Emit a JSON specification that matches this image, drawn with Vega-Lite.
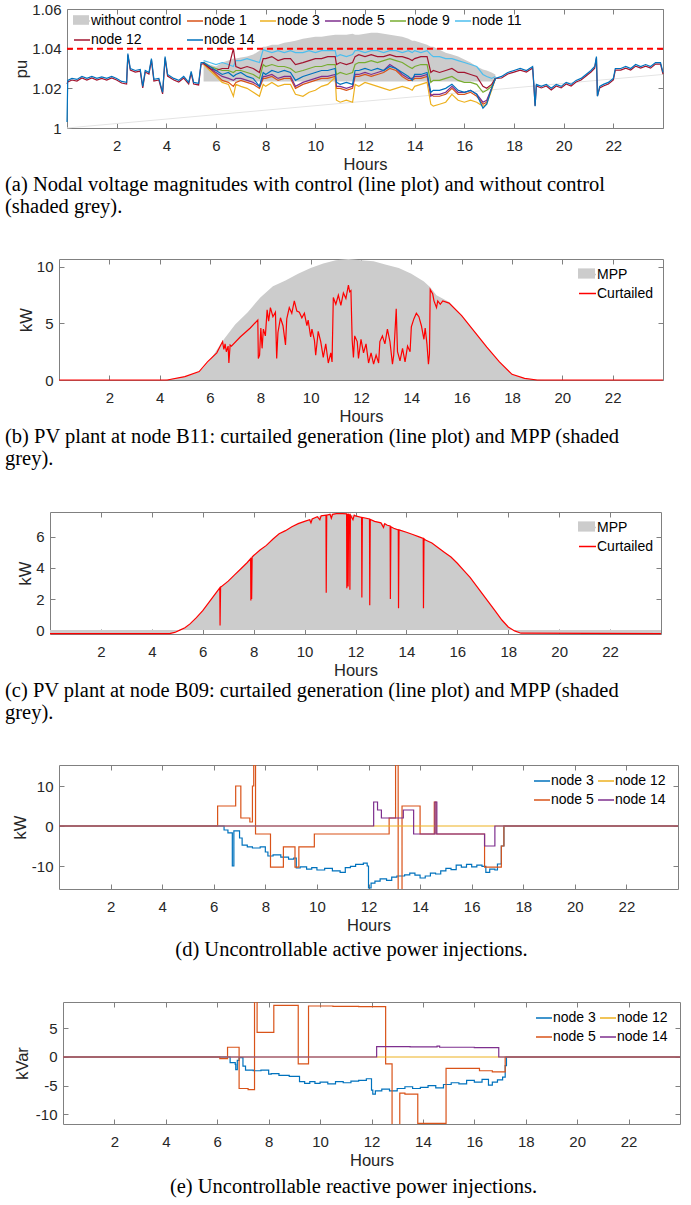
{
"$schema": "https://vega.github.io/schema/vega-lite/v6.json",
"background": "white",
"padding": {"left": 3, "top": 1, "right": 5, "bottom": 3},
"config": {
  "font": "Liberation Sans",
  "locale": {"number": {"decimal": ".", "thousands": ",", "grouping": [3], "currency": ["$", ""], "minus": "-"}},
  "view": {"stroke": "#808080", "strokeWidth": 1},
  "axis": {"grid": false, "domain": false, "tickSize": -5, "tickColor": "#808080", "tickWidth": 1, "labelFont": "Liberation Sans", "labelFontSize": 15, "labelColor": "#262626", "labelPadding": 11, "titleFont": "Liberation Sans", "titleFontSize": 16.5, "titleFontWeight": "normal", "titleColor": "#262626", "labelFlush": false, "labelOverlap": false},
  "axisY": {"titlePadding": 2},
  "axisX": {"titlePadding": 3, "labelPadding": 15, "tickCount": 12},
  "title": {"font": "Liberation Serif", "fontSize": 20.5, "fontWeight": "normal", "color": "#000000", "lineHeight": 22, "offset": 2},
  "legend": {"labelFont": "Liberation Sans", "labelFontSize": 14, "labelColor": "#000000"}
},
"datasets": {
"va": [
{"h":0,"n14":1.003,"n12":1.0222},{"h":0.03,"n14":1.024,"n12":1.0232},{"h":0.2,"n14":1.025,"n12":1.0242},{"h":0.4,"n14":1.0245,"n12":1.0237},{"h":0.6,"n14":1.026,"n12":1.0252},{"h":0.8,"n14":1.025,"n12":1.0242},{"h":1.0,"n14":1.026,"n12":1.0252},{"h":1.2,"n14":1.025,"n12":1.0242},{"h":1.4,"n14":1.0258,"n12":1.025},{"h":1.6,"n14":1.025,"n12":1.0242},{"h":1.8,"n14":1.026,"n12":1.0252},{"h":2.0,"n14":1.025,"n12":1.0242},{"h":2.2,"n14":1.0235,"n12":1.0227},{"h":2.4,"n14":1.023,"n12":1.0222},{"h":2.45,"n14":1.0375,"n12":1.0367},{"h":2.55,"n14":1.030,"n12":1.0292},{"h":2.75,"n14":1.029,"n12":1.0282},{"h":2.95,"n14":1.0295,"n12":1.0287},{"h":3.05,"n14":1.021,"n12":1.0202},{"h":3.15,"n14":1.029,"n12":1.0282},{"h":3.3,"n14":1.028,"n12":1.0272},{"h":3.4,"n14":1.035,"n12":1.0342},{"h":3.5,"n14":1.0245,"n12":1.0237},{"h":3.7,"n14":1.025,"n12":1.0242},{"h":3.85,"n14":1.018,"n12":1.0172},{"h":3.95,"n14":1.036,"n12":1.0352},{"h":4.05,"n14":1.027,"n12":1.0262},{"h":4.3,"n14":1.025,"n12":1.0242},{"h":4.5,"n14":1.024,"n12":1.0232},{"h":4.7,"n14":1.026,"n12":1.0252},{"h":4.9,"n14":1.023,"n12":1.0222},{"h":5.0,"n14":1.0285,"n12":1.0277},{"h":5.1,"n14":1.023,"n12":1.0222},{"h":5.3,"n14":1.0225,"n12":1.0217},{"h":5.4,"n14":1.033,"n12":1.0322},
{"h":5.5,"n1":1.033,"n3":1.032,"n5":1.033,"n9":1.033,"n11":1.034,"n12":1.0325,"n14":1.033,"t":1.0335,"b":1.0235},
{"h":5.75,"n1":1.030,"n3":1.029,"n5":1.030,"n9":1.031,"n11":1.033,"n12":1.030,"n14":1.031,"t":1.032,"b":1.0235},
{"h":6.0,"n1":1.027,"n3":1.026,"n5":1.028,"n9":1.030,"n11":1.032,"n12":1.029,"n14":1.029,"t":1.031,"b":1.0235},
{"h":6.25,"n1":1.024,"n3":1.023,"n5":1.026,"n9":1.029,"n11":1.033,"n12":1.030,"n14":1.027,"t":1.033,"b":1.0235},
{"h":6.5,"n1":1.023,"n3":1.022,"n5":1.025,"n9":1.029,"n11":1.032,"n12":1.030,"n14":1.028,"t":1.034,"b":1.0235},
{"h":6.7,"n1":1.021,"n3":1.016,"n5":1.024,"n9":1.028,"n11":1.031,"n12":1.040,"n14":1.026,"t":1.035,"b":1.0235},
{"h":6.8,"n1":1.023,"n3":1.022,"n5":1.025,"n9":1.029,"n11":1.034,"n12":1.031,"n14":1.027,"t":1.035,"b":1.0235},
{"h":7.0,"n1":1.024,"n3":1.021,"n5":1.025,"n9":1.029,"n11":1.034,"n12":1.030,"n14":1.028,"t":1.0355,"b":1.0235},
{"h":7.25,"n1":1.023,"n3":1.020,"n5":1.024,"n9":1.028,"n11":1.035,"n12":1.031,"n14":1.026,"t":1.036,"b":1.0235},
{"h":7.5,"n1":1.022,"n3":1.018,"n5":1.023,"n9":1.027,"n11":1.034,"n12":1.030,"n14":1.025,"t":1.037,"b":1.0235},
{"h":7.75,"n1":1.020,"n3":1.016,"n5":1.021,"n9":1.025,"n11":1.033,"n12":1.028,"n14":1.021,"t":1.039,"b":1.0235},
{"h":7.9,"n1":1.025,"n3":1.022,"n5":1.026,"n9":1.032,"n11":1.0395,"n12":1.035,"n14":1.028,"t":1.041,"b":1.0235},
{"h":8.0,"n1":1.025,"n3":1.021,"n5":1.026,"n9":1.031,"n11":1.039,"n12":1.035,"n14":1.027,"t":1.041,"b":1.0235},
{"h":8.25,"n1":1.026,"n3":1.023,"n5":1.027,"n9":1.032,"n11":1.038,"n12":1.036,"n14":1.029,"t":1.042,"b":1.0235},
{"h":8.5,"n1":1.024,"n3":1.021,"n5":1.025,"n9":1.031,"n11":1.039,"n12":1.034,"n14":1.028,"t":1.042,"b":1.0235},
{"h":8.75,"n1":1.025,"n3":1.022,"n5":1.026,"n9":1.031,"n11":1.038,"n12":1.035,"n14":1.029,"t":1.043,"b":1.0235},
{"h":9.0,"n1":1.025,"n3":1.022,"n5":1.026,"n9":1.030,"n11":1.039,"n12":1.035,"n14":1.028,"t":1.0435,"b":1.0235},
{"h":9.2,"n1":1.020,"n3":1.017,"n5":1.021,"n9":1.028,"n11":1.038,"n12":1.032,"n14":1.024,"t":1.044,"b":1.0235},
{"h":9.5,"n1":1.022,"n3":1.016,"n5":1.023,"n9":1.029,"n11":1.038,"n12":1.033,"n14":1.026,"t":1.045,"b":1.0235},
{"h":9.75,"n1":1.023,"n3":1.018,"n5":1.024,"n9":1.030,"n11":1.039,"n12":1.034,"n14":1.027,"t":1.0455,"b":1.0235},
{"h":10.0,"n1":1.024,"n3":1.019,"n5":1.025,"n9":1.031,"n11":1.038,"n12":1.035,"n14":1.028,"t":1.046,"b":1.0235},
{"h":10.25,"n1":1.025,"n3":1.021,"n5":1.026,"n9":1.031,"n11":1.039,"n12":1.035,"n14":1.029,"t":1.046,"b":1.0235},
{"h":10.5,"n1":1.025,"n3":1.022,"n5":1.026,"n9":1.032,"n11":1.039,"n12":1.036,"n14":1.029,"t":1.0465,"b":1.0235},
{"h":10.8,"n1":1.026,"n3":1.0255,"n5":1.027,"n9":1.032,"n11":1.039,"n12":1.036,"n14":1.030,"t":1.047,"b":1.0235},
{"h":10.85,"n1":1.020,"n3":1.014,"n5":1.021,"n9":1.027,"n11":1.036,"n12":1.032,"n14":1.023,"t":1.047,"b":1.0235},
{"h":11.0,"n1":1.020,"n3":1.013,"n5":1.021,"n9":1.028,"n11":1.037,"n12":1.033,"n14":1.022,"t":1.047,"b":1.0235},
{"h":11.25,"n1":1.019,"n3":1.014,"n5":1.020,"n9":1.027,"n11":1.036,"n12":1.032,"n14":1.023,"t":1.047,"b":1.0235},
{"h":11.5,"n1":1.020,"n3":1.013,"n5":1.021,"n9":1.028,"n11":1.037,"n12":1.033,"n14":1.022,"t":1.0475,"b":1.0235},
{"h":11.6,"n1":1.026,"n3":1.022,"n5":1.027,"n9":1.032,"n11":1.039,"n12":1.036,"n14":1.029,"t":1.047,"b":1.0235},
{"h":11.75,"n1":1.026,"n3":1.021,"n5":1.027,"n9":1.033,"n11":1.039,"n12":1.037,"n14":1.029,"t":1.047,"b":1.0235},
{"h":12.0,"n1":1.027,"n3":1.023,"n5":1.028,"n9":1.033,"n11":1.038,"n12":1.036,"n14":1.030,"t":1.0475,"b":1.0235},
{"h":12.25,"n1":1.026,"n3":1.022,"n5":1.027,"n9":1.034,"n11":1.039,"n12":1.037,"n14":1.029,"t":1.048,"b":1.0235},
{"h":12.5,"n1":1.027,"n3":1.021,"n5":1.028,"n9":1.033,"n11":1.039,"n12":1.036,"n14":1.030,"t":1.048,"b":1.0235},
{"h":12.75,"n1":1.028,"n3":1.020,"n5":1.029,"n9":1.034,"n11":1.038,"n12":1.036,"n14":1.029,"t":1.0475,"b":1.0235},
{"h":13.0,"n1":1.030,"n3":1.019,"n5":1.032,"n9":1.035,"n11":1.039,"n12":1.037,"n14":1.031,"t":1.047,"b":1.0235},
{"h":13.25,"n1":1.029,"n3":1.020,"n5":1.030,"n9":1.034,"n11":1.039,"n12":1.036,"n14":1.030,"t":1.0465,"b":1.0235},
{"h":13.5,"n1":1.026,"n3":1.021,"n5":1.027,"n9":1.033,"n11":1.038,"n12":1.036,"n14":1.028,"t":1.046,"b":1.0235},
{"h":13.75,"n1":1.024,"n3":1.020,"n5":1.025,"n9":1.031,"n11":1.039,"n12":1.035,"n14":1.026,"t":1.045,"b":1.0235},
{"h":13.9,"n1":1.024,"n3":1.019,"n5":1.025,"n9":1.030,"n11":1.038,"n12":1.034,"n14":1.024,"t":1.044,"b":1.0235},
{"h":14.0,"n1":1.025,"n3":1.021,"n5":1.026,"n9":1.031,"n11":1.039,"n12":1.035,"n14":1.027,"t":1.044,"b":1.0235},
{"h":14.25,"n1":1.025,"n3":1.022,"n5":1.026,"n9":1.032,"n11":1.038,"n12":1.036,"n14":1.027,"t":1.043,"b":1.0235},
{"h":14.5,"n1":1.026,"n3":1.023,"n5":1.027,"n9":1.032,"n11":1.039,"n12":1.036,"n14":1.028,"t":1.042,"b":1.0235},
{"h":14.65,"n1":1.017,"n3":1.012,"n5":1.016,"n9":1.023,"n11":1.037,"n12":1.028,"n14":1.018,"t":1.041,"b":1.0235},
{"h":14.75,"n1":1.016,"n3":1.011,"n5":1.017,"n9":1.024,"n11":1.036,"n12":1.029,"n14":1.019,"t":1.041,"b":1.0235},
{"h":15.0,"n1":1.016,"n3":1.012,"n5":1.017,"n9":1.024,"n11":1.036,"n12":1.028,"n14":1.019,"t":1.0395,"b":1.0235},
{"h":15.25,"n1":1.017,"n3":1.013,"n5":1.018,"n9":1.025,"n11":1.035,"n12":1.029,"n14":1.020,"t":1.038,"b":1.0235},
{"h":15.5,"n1":1.020,"n3":1.017,"n5":1.021,"n9":1.026,"n11":1.035,"n12":1.030,"n14":1.022,"t":1.037,"b":1.0235},
{"h":15.75,"n1":1.017,"n3":1.014,"n5":1.018,"n9":1.024,"n11":1.034,"n12":1.028,"n14":1.019,"t":1.036,"b":1.0235},
{"h":16.0,"n1":1.017,"n3":1.013,"n5":1.018,"n9":1.023,"n11":1.033,"n12":1.028,"n14":1.018,"t":1.0345,"b":1.0235},
{"h":16.25,"n1":1.018,"n3":1.014,"n5":1.019,"n9":1.023,"n11":1.032,"n12":1.027,"n14":1.019,"t":1.033,"b":1.0235},
{"h":16.5,"n1":1.016,"n3":1.013,"n5":1.017,"n9":1.022,"n11":1.031,"n12":1.026,"n14":1.017,"t":1.031,"b":1.0235},
{"h":16.75,"n1":1.012,"n3":1.011,"n5":1.013,"n9":1.018,"n11":1.027,"n12":1.021,"n14":1.010,"t":1.0295,"b":1.0235},
{"h":16.9,"n1":1.013,"n3":1.012,"n5":1.014,"n9":1.019,"n11":1.026,"n12":1.020,"n14":1.012,"t":1.029,"b":1.0235},
{"h":17.1,"n1":1.020,"n3":1.019,"n5":1.020,"n9":1.021,"n11":1.025,"n12":1.022,"n14":1.020,"t":1.028,"b":1.0235},
{"h":17.25,"n1":1.025,"n3":1.025,"n5":1.025,"n9":1.025,"n11":1.026,"n12":1.025,"n14":1.025,"t":1.027,"b":1.0235},
{"h":17.5,"n14":1.026,"n12":1.0252},{"h":17.75,"n14":1.028,"n12":1.0272},{"h":18.0,"n14":1.029,"n12":1.0282},{"h":18.25,"n14":1.030,"n12":1.0292},{"h":18.5,"n14":1.029,"n12":1.0282},{"h":18.75,"n14":1.031,"n12":1.0302},{"h":18.8,"n14":1.022,"n12":1.0212},{"h":18.85,"n14":1.011,"n12":1.0112},{"h":18.9,"n14":1.022,"n12":1.0212},{"h":19.1,"n14":1.021,"n12":1.0202},{"h":19.3,"n14":1.022,"n12":1.0212},{"h":19.5,"n14":1.020,"n12":1.0192},{"h":19.7,"n14":1.022,"n12":1.0212},{"h":19.9,"n14":1.021,"n12":1.0202},{"h":20.1,"n14":1.023,"n12":1.0222},{"h":20.3,"n14":1.022,"n12":1.0212},{"h":20.5,"n14":1.024,"n12":1.0232},{"h":20.7,"n14":1.025,"n12":1.0242},{"h":20.9,"n14":1.027,"n12":1.0262},{"h":21.1,"n14":1.029,"n12":1.0282},{"h":21.25,"n14":1.031,"n12":1.0302},{"h":21.32,"n14":1.036,"n12":1.0352},{"h":21.36,"n14":1.016,"n12":1.0162},{"h":21.45,"n14":1.021,"n12":1.0202},{"h":21.6,"n14":1.022,"n12":1.0212},{"h":21.8,"n14":1.023,"n12":1.0222},{"h":22.0,"n14":1.025,"n12":1.0242},{"h":22.08,"n14":1.030,"n12":1.0292},{"h":22.3,"n14":1.030,"n12":1.0292},{"h":22.5,"n14":1.031,"n12":1.0302},{"h":22.7,"n14":1.030,"n12":1.0292},{"h":22.9,"n14":1.032,"n12":1.0312},{"h":23.1,"n14":1.031,"n12":1.0302},{"h":23.3,"n14":1.032,"n12":1.0312},{"h":23.5,"n14":1.031,"n12":1.0302},{"h":23.7,"n14":1.033,"n12":1.0322},{"h":23.9,"n14":1.033,"n12":1.0322},{"h":24.0,"n14":1.028,"n12":1.0272}
],
"bm": [{"h":0,"v":0},{"h":4.2,"v":0},{"h":4.5,"v":0.1},{"h":5,"v":0.3},{"h":5.6,"v":0.75},{"h":6,"v":1.75},{"h":6.5,"v":3.45},{"h":7,"v":4.9},{"h":7.5,"v":6.0},{"h":8,"v":7.3},{"h":8.5,"v":8.3},{"h":9,"v":8.8},{"h":9.5,"v":9.4},{"h":10,"v":9.9},{"h":10.5,"v":10.3},{"h":11,"v":10.6},{"h":11.5,"v":10.7},{"h":12,"v":10.6},{"h":12.5,"v":10.5},{"h":13,"v":10.2},{"h":13.5,"v":9.9},{"h":14,"v":9.4},{"h":14.5,"v":8.7},{"h":14.75,"v":8.2},{"h":15,"v":7.5},{"h":15.5,"v":6.9},{"h":16,"v":5.7},{"h":16.5,"v":4.3},{"h":17,"v":2.9},{"h":17.5,"v":1.6},{"h":18,"v":0.5},{"h":18.5,"v":0.15},{"h":19,"v":0.02},{"h":19.3,"v":0},{"h":24,"v":0}],
"bc": [{"h":0,"v":0},{"h":4.3,"v":0},{"h":5,"v":0.3},{"h":5.57,"v":0.75},{"h":5.9,"v":1.6},{"h":6.27,"v":2.4},{"h":6.5,"v":3.4},{"h":6.55,"v":2.7},{"h":6.6,"v":3.2},{"h":6.65,"v":2.5},{"h":6.72,"v":3.0},{"h":6.75,"v":1.5},{"h":6.8,"v":3.1},{"h":6.85,"v":3.0},{"h":7.2,"v":3.8},{"h":7.6,"v":4.6},{"h":7.9,"v":5.3},{"h":7.92,"v":1.9},{"h":7.97,"v":2.2},{"h":8.02,"v":4.6},{"h":8.07,"v":2.8},{"h":8.12,"v":4.5},{"h":8.2,"v":3.9},{"h":8.27,"v":6.2},{"h":8.33,"v":5.2},{"h":8.4,"v":6.4},{"h":8.5,"v":5.6},{"h":8.6,"v":6.0},{"h":8.65,"v":1.9},{"h":8.7,"v":4.2},{"h":8.8,"v":5.5},{"h":8.9,"v":4.8},{"h":9.0,"v":3.1},{"h":9.05,"v":5.4},{"h":9.15,"v":6.4},{"h":9.25,"v":5.9},{"h":9.35,"v":7.0},{"h":9.45,"v":6.1},{"h":9.55,"v":6.0},{"h":9.65,"v":5.5},{"h":9.75,"v":5.9},{"h":9.85,"v":4.8},{"h":9.9,"v":5.3},{"h":10.0,"v":3.8},{"h":10.05,"v":4.5},{"h":10.15,"v":3.5},{"h":10.2,"v":2.2},{"h":10.3,"v":4.3},{"h":10.4,"v":3.4},{"h":10.5,"v":2.0},{"h":10.6,"v":3.2},{"h":10.7,"v":1.5},{"h":10.8,"v":2.4},{"h":10.85,"v":1.6},{"h":10.9,"v":7.3},{"h":11.0,"v":6.7},{"h":11.1,"v":7.5},{"h":11.2,"v":6.6},{"h":11.3,"v":7.7},{"h":11.4,"v":7.2},{"h":11.5,"v":8.4},{"h":11.55,"v":7.8},{"h":11.6,"v":7.9},{"h":11.65,"v":3.5},{"h":11.7,"v":2.0},{"h":11.75,"v":3.9},{"h":11.85,"v":3.4},{"h":11.9,"v":1.9},{"h":12.0,"v":3.6},{"h":12.1,"v":2.4},{"h":12.2,"v":3.2},{"h":12.3,"v":1.5},{"h":12.4,"v":2.4},{"h":12.5,"v":1.4},{"h":12.6,"v":2.2},{"h":12.7,"v":1.5},{"h":12.75,"v":3.4},{"h":12.85,"v":3.9},{"h":12.95,"v":3.2},{"h":13.05,"v":4.5},{"h":13.15,"v":3.4},{"h":13.25,"v":1.4},{"h":13.3,"v":2.2},{"h":13.4,"v":6.3},{"h":13.45,"v":2.5},{"h":13.55,"v":1.7},{"h":13.65,"v":2.8},{"h":13.75,"v":1.6},{"h":13.85,"v":3.0},{"h":13.95,"v":2.5},{"h":14.0,"v":4.7},{"h":14.1,"v":5.4},{"h":14.2,"v":5.9},{"h":14.3,"v":5.6},{"h":14.4,"v":4.8},{"h":14.5,"v":3.6},{"h":14.55,"v":4.6},{"h":14.62,"v":3.2},{"h":14.68,"v":1.4},{"h":14.72,"v":2.3},{"h":14.75,"v":8.0},{"h":14.85,"v":7.6},{"h":14.9,"v":7.0},{"h":15.0,"v":6.4},{"h":15.05,"v":7.0},{"h":15.15,"v":6.7},{"h":15.25,"v":7.0},{"h":15.5,"v":6.8},{"h":16,"v":5.7},{"h":16.5,"v":4.3},{"h":17,"v":2.9},{"h":17.5,"v":1.6},{"h":18,"v":0.5},{"h":18.5,"v":0.15},{"h":19,"v":0},{"h":24,"v":0}],
"cm": [{"h":0,"v":-0.22},{"h":4.7,"v":-0.22},{"h":4.9,"v":-0.15},{"h":5.1,"v":0},{"h":5.3,"v":0.15},{"h":5.5,"v":0.4},{"h":5.75,"v":0.8},{"h":6,"v":1.25},{"h":6.25,"v":1.8},{"h":6.5,"v":2.35},{"h":6.75,"v":2.8},{"h":7,"v":3.15},{"h":7.25,"v":3.55},{"h":7.5,"v":3.95},{"h":7.75,"v":4.35},{"h":8,"v":4.8},{"h":8.25,"v":5.15},{"h":8.5,"v":5.45},{"h":8.75,"v":5.85},{"h":9,"v":6.2},{"h":9.25,"v":6.4},{"h":9.5,"v":6.65},{"h":9.75,"v":6.85},{"h":10,"v":7.0},{"h":10.25,"v":7.15},{"h":10.5,"v":7.3},{"h":10.75,"v":7.4},{"h":11,"v":7.45},{"h":11.25,"v":7.5},{"h":11.5,"v":7.5},{"h":11.75,"v":7.45},{"h":12,"v":7.35},{"h":12.25,"v":7.25},{"h":12.5,"v":7.15},{"h":12.75,"v":7.0},{"h":13,"v":6.9},{"h":13.25,"v":6.75},{"h":13.5,"v":6.55},{"h":13.75,"v":6.45},{"h":14,"v":6.3},{"h":14.25,"v":6.15},{"h":14.5,"v":6.0},{"h":14.75,"v":5.8},{"h":15,"v":5.6},{"h":15.25,"v":5.3},{"h":15.5,"v":5.0},{"h":15.75,"v":4.7},{"h":16,"v":4.3},{"h":16.25,"v":3.85},{"h":16.5,"v":3.4},{"h":16.75,"v":2.85},{"h":17,"v":2.3},{"h":17.25,"v":1.75},{"h":17.5,"v":1.2},{"h":17.75,"v":0.65},{"h":18,"v":0.2},{"h":18.25,"v":-0.05},{"h":18.5,"v":-0.2},{"h":24,"v":-0.22}],
"cc": [{"h":0,"v":-0.22},{"h":4.7,"v":-0.22},{"h":4.9,"v":-0.15},{"h":5.1,"v":0},{"h":5.3,"v":0.15},{"h":5.5,"v":0.4},{"h":5.75,"v":0.8},{"h":6,"v":1.25},{"h":6.25,"v":1.8},{"h":6.5,"v":2.35},{"h":6.67,"v":2.72},{"h":6.68,"v":0.3},{"h":6.7,"v":2.76},{"h":7,"v":3.15},{"h":7.25,"v":3.55},{"h":7.5,"v":3.95},{"h":7.75,"v":4.35},{"h":7.88,"v":4.6},{"h":7.89,"v":1.9},{"h":7.91,"v":4.65},{"h":7.92,"v":2.0},{"h":7.94,"v":4.7},{"h":8,"v":4.8},{"h":8.25,"v":5.15},{"h":8.5,"v":5.45},{"h":8.75,"v":5.85},{"h":9,"v":6.2},{"h":9.25,"v":6.4},{"h":9.5,"v":6.65},{"h":9.75,"v":6.85},{"h":10,"v":7.0},{"h":10.2,"v":7.1},{"h":10.25,"v":6.9},{"h":10.3,"v":7.15},{"h":10.5,"v":7.3},{"h":10.6,"v":7.1},{"h":10.65,"v":7.35},{"h":10.84,"v":7.4},{"h":10.85,"v":2.4},{"h":10.87,"v":7.4},{"h":11,"v":7.45},{"h":11.05,"v":7.2},{"h":11.1,"v":7.45},{"h":11.25,"v":7.5},{"h":11.5,"v":7.5},{"h":11.65,"v":7.48},{"h":11.66,"v":2.7},{"h":11.68,"v":7.45},{"h":11.7,"v":7.45},{"h":11.71,"v":2.8},{"h":11.73,"v":7.45},{"h":11.77,"v":7.4},{"h":11.78,"v":2.6},{"h":11.8,"v":7.4},{"h":11.9,"v":7.1},{"h":11.95,"v":7.4},{"h":12,"v":7.35},{"h":12.24,"v":7.25},{"h":12.25,"v":2.1},{"h":12.27,"v":7.25},{"h":12.55,"v":7.15},{"h":12.56,"v":1.6},{"h":12.58,"v":7.12},{"h":12.75,"v":7.0},{"h":13,"v":6.9},{"h":13.1,"v":6.6},{"h":13.15,"v":6.85},{"h":13.25,"v":6.75},{"h":13.36,"v":6.7},{"h":13.37,"v":2.0},{"h":13.39,"v":6.65},{"h":13.5,"v":6.55},{"h":13.68,"v":6.45},{"h":13.69,"v":1.4},{"h":13.71,"v":6.45},{"h":14,"v":6.3},{"h":14.25,"v":6.15},{"h":14.5,"v":6.0},{"h":14.66,"v":5.9},{"h":14.67,"v":1.4},{"h":14.69,"v":5.88},{"h":14.75,"v":5.8},{"h":15,"v":5.6},{"h":15.25,"v":5.3},{"h":15.5,"v":5.0},{"h":15.75,"v":4.7},{"h":16,"v":4.3},{"h":16.25,"v":3.85},{"h":16.5,"v":3.4},{"h":16.75,"v":2.85},{"h":17,"v":2.3},{"h":17.25,"v":1.75},{"h":17.5,"v":1.2},{"h":17.75,"v":0.65},{"h":18,"v":0.2},{"h":18.25,"v":-0.05},{"h":18.5,"v":-0.2},{"h":24,"v":-0.22}],
"d": [
{"h":0,"s":"node 3","v":0},{"h":6.4,"s":"node 3","v":-1},{"h":6.55,"s":"node 3","v":-1.7},{"h":6.72,"s":"node 3","v":-10},{"h":6.78,"s":"node 3","v":-1.2},{"h":7.0,"s":"node 3","v":-3},{"h":7.1,"s":"node 3","v":-4.8},{"h":7.3,"s":"node 3","v":-5.2},{"h":7.5,"s":"node 3","v":-5.5},{"h":7.8,"s":"node 3","v":-5.2},{"h":8.0,"s":"node 3","v":-6.5},{"h":8.1,"s":"node 3","v":-7.5},{"h":8.3,"s":"node 3","v":-7.2},{"h":8.6,"s":"node 3","v":-7.8},{"h":8.9,"s":"node 3","v":-8.3},{"h":9.1,"s":"node 3","v":-8.0},{"h":9.2,"s":"node 3","v":-10.5},{"h":9.35,"s":"node 3","v":-10.2},{"h":9.6,"s":"node 3","v":-10.8},{"h":9.8,"s":"node 3","v":-10.4},{"h":10.0,"s":"node 3","v":-11.0},{"h":10.3,"s":"node 3","v":-10.6},{"h":10.6,"s":"node 3","v":-11.2},{"h":10.9,"s":"node 3","v":-11.6},{"h":11.1,"s":"node 3","v":-10.4},{"h":11.3,"s":"node 3","v":-10.1},{"h":11.5,"s":"node 3","v":-9.6},{"h":11.8,"s":"node 3","v":-9.3},{"h":11.95,"s":"node 3","v":-10},{"h":12.0,"s":"node 3","v":-15.5},{"h":12.1,"s":"node 3","v":-14.3},{"h":12.25,"s":"node 3","v":-13.8},{"h":12.45,"s":"node 3","v":-13.2},{"h":12.7,"s":"node 3","v":-13.6},{"h":12.9,"s":"node 3","v":-12.8},{"h":13.1,"s":"node 3","v":-12.5},{"h":13.4,"s":"node 3","v":-12.2},{"h":13.6,"s":"node 3","v":-11.8},{"h":13.8,"s":"node 3","v":-12.3},{"h":14.0,"s":"node 3","v":-13.0},{"h":14.2,"s":"node 3","v":-12.5},{"h":14.4,"s":"node 3","v":-11.8},{"h":14.6,"s":"node 3","v":-12.0},{"h":14.8,"s":"node 3","v":-11.2},{"h":15.0,"s":"node 3","v":-10.6},{"h":15.2,"s":"node 3","v":-10.9},{"h":15.4,"s":"node 3","v":-9.8},{"h":15.6,"s":"node 3","v":-10.3},{"h":15.8,"s":"node 3","v":-9.6},{"h":16.0,"s":"node 3","v":-10.2},{"h":16.2,"s":"node 3","v":-9.8},{"h":16.4,"s":"node 3","v":-10.1},{"h":16.55,"s":"node 3","v":-11.6},{"h":16.7,"s":"node 3","v":-10.8},{"h":16.9,"s":"node 3","v":-11.0},{"h":17.0,"s":"node 3","v":-9.5},{"h":17.15,"s":"node 3","v":-5},{"h":17.25,"s":"node 3","v":0},{"h":24,"s":"node 3","v":0},
{"h":0,"s":"node 5","v":0},{"h":6.15,"s":"node 5","v":5},{"h":6.85,"s":"node 5","v":10},{"h":7.05,"s":"node 5","v":2},{"h":7.4,"s":"node 5","v":1},{"h":7.5,"s":"node 5","v":10},{"h":7.55,"s":"node 5","v":17},{"h":7.62,"s":"node 5","v":-2},{"h":8.2,"s":"node 5","v":-10.3},{"h":8.7,"s":"node 5","v":-5.2},{"h":9.15,"s":"node 5","v":-10.3},{"h":9.3,"s":"node 5","v":-5.2},{"h":9.9,"s":"node 5","v":-2},{"h":12.8,"s":"node 5","v":2},{"h":13.05,"s":"node 5","v":17},{"h":13.15,"s":"node 5","v":-17},{"h":13.3,"s":"node 5","v":5},{"h":14.0,"s":"node 5","v":-2},{"h":14.55,"s":"node 5","v":6},{"h":14.62,"s":"node 5","v":-2},{"h":16.5,"s":"node 5","v":-10.3},{"h":17.15,"s":"node 5","v":-5},{"h":17.25,"s":"node 5","v":0},{"h":24,"s":"node 5","v":0},
{"h":0,"s":"node 12","v":0},{"h":24,"s":"node 12","v":0},
{"h":0,"s":"node 14","v":0},{"h":12.2,"s":"node 14","v":6},{"h":12.35,"s":"node 14","v":4},{"h":12.5,"s":"node 14","v":2},{"h":13.35,"s":"node 14","v":4},{"h":13.75,"s":"node 14","v":-2},{"h":14.58,"s":"node 14","v":6},{"h":14.65,"s":"node 14","v":-2},{"h":16.5,"s":"node 14","v":-5},{"h":16.9,"s":"node 14","v":0},{"h":24,"s":"node 14","v":0}
],
"e": [
{"h":0,"s":"node 3","v":0},{"h":6.5,"s":"node 3","v":-1},{"h":6.7,"s":"node 3","v":-1.3},{"h":6.72,"s":"node 3","v":-2.2},{"h":6.78,"s":"node 3","v":-0.6},{"h":6.85,"s":"node 3","v":-0.1},{"h":7.0,"s":"node 3","v":-1.6},{"h":7.1,"s":"node 3","v":-2.3},{"h":7.4,"s":"node 3","v":-2.4},{"h":7.7,"s":"node 3","v":-2.3},{"h":8.0,"s":"node 3","v":-3.0},{"h":8.1,"s":"node 3","v":-2.9},{"h":8.4,"s":"node 3","v":-3.2},{"h":8.8,"s":"node 3","v":-3.4},{"h":9.2,"s":"node 3","v":-4.3},{"h":9.4,"s":"node 3","v":-4.6},{"h":9.6,"s":"node 3","v":-4.3},{"h":9.8,"s":"node 3","v":-4.6},{"h":10.0,"s":"node 3","v":-4.4},{"h":10.3,"s":"node 3","v":-4.7},{"h":10.6,"s":"node 3","v":-4.3},{"h":10.9,"s":"node 3","v":-4.5},{"h":11.2,"s":"node 3","v":-4.2},{"h":11.5,"s":"node 3","v":-4.1},{"h":11.8,"s":"node 3","v":-3.8},{"h":12.0,"s":"node 3","v":-5.8},{"h":12.05,"s":"node 3","v":-6.5},{"h":12.15,"s":"node 3","v":-5.9},{"h":12.4,"s":"node 3","v":-5.6},{"h":12.7,"s":"node 3","v":-5.9},{"h":13.0,"s":"node 3","v":-5.5},{"h":13.3,"s":"node 3","v":-5.2},{"h":13.6,"s":"node 3","v":-5.5},{"h":13.9,"s":"node 3","v":-5.3},{"h":14.2,"s":"node 3","v":-5.0},{"h":14.5,"s":"node 3","v":-5.4},{"h":14.8,"s":"node 3","v":-4.8},{"h":15.1,"s":"node 3","v":-4.5},{"h":15.4,"s":"node 3","v":-4.7},{"h":15.7,"s":"node 3","v":-4.1},{"h":16.0,"s":"node 3","v":-4.4},{"h":16.3,"s":"node 3","v":-3.9},{"h":16.55,"s":"node 3","v":-4.9},{"h":16.7,"s":"node 3","v":-4.4},{"h":16.9,"s":"node 3","v":-4.0},{"h":17.1,"s":"node 3","v":-3.5},{"h":17.2,"s":"node 3","v":-1.5},{"h":17.25,"s":"node 3","v":0},{"h":24,"s":"node 3","v":0},
{"h":0,"s":"node 5","v":0},{"h":6.1,"s":"node 5","v":-0.3},{"h":6.4,"s":"node 5","v":1.7},{"h":6.85,"s":"node 5","v":-5.5},{"h":7.2,"s":"node 5","v":-5.7},{"h":7.45,"s":"node 5","v":11},{"h":7.55,"s":"node 5","v":4.3},{"h":8.2,"s":"node 5","v":9.0},{"h":9.15,"s":"node 5","v":-1.2},{"h":9.55,"s":"node 5","v":8.9},{"h":10.5,"s":"node 5","v":8.85},{"h":11.5,"s":"node 5","v":8.8},{"h":12.55,"s":"node 5","v":-1.2},{"h":12.8,"s":"node 5","v":-13},{"h":13.1,"s":"node 5","v":-6.3},{"h":13.3,"s":"node 5","v":-6.5},{"h":13.8,"s":"node 5","v":-11.6},{"h":14.9,"s":"node 5","v":-2.0},{"h":16.2,"s":"node 5","v":-2.4},{"h":16.7,"s":"node 5","v":-2.6},{"h":17.2,"s":"node 5","v":0},{"h":24,"s":"node 5","v":0},
{"h":0,"s":"node 12","v":0},{"h":24,"s":"node 12","v":0},
{"h":0,"s":"node 14","v":0},{"h":12.2,"s":"node 14","v":1.8},{"h":13.5,"s":"node 14","v":1.75},{"h":14.55,"s":"node 14","v":1.9},{"h":14.65,"s":"node 14","v":1.7},{"h":16.0,"s":"node 14","v":1.65},{"h":16.95,"s":"node 14","v":0},{"h":24,"s":"node 14","v":0}
]
},
"spacing": 40,
"resolve": {"scale": {"color": "independent", "fill": "independent", "x": "independent", "y": "independent"}, "legend": {"color": "independent", "fill": "independent"}},
"vconcat": [
{"spacing": 0, "resolve": {"scale": {"color": "independent", "fill": "independent"}, "legend": {"color": "independent", "fill": "independent"}},
 "hconcat": [
 {"width": 1, "height": 1, "view": {"stroke": null}, "data": {"values": [{}]}, "mark": {"type": "point", "opacity": 0, "size": 0}},
 {
  "width": 596, "height": 119,
  "title": {"text": ["(a) Nodal voltage magnitudes with control (line plot) and without control", "(shaded grey)."], "anchor": "start", "frame": "group", "dx": -62, "orient": "bottom"},
  "layer": [
    {"layer": [
      {"data": {"name": "va"}, "transform": [{"filter": "isValid(datum.t)"}],
       "mark": {"type": "area", "opacity": 1},
       "encoding": {
         "x": {"field": "h", "type": "quantitative", "title": "Hours", "scale": {"domain": [0, 24], "nice": false, "zero": false}, "axis": {"values": [2,4,6,8,10,12,14,16,18,20,22]}},
         "y": {"field": "t", "type": "quantitative", "title": "pu", "scale": {"domain": [1, 1.06], "nice": false, "zero": false}, "axis": {"values": [1, 1.02, 1.04, 1.06], "tickCount": 4, "labelExpr": "datum.value < 1.001 ? '1' : format(datum.value, '.2f')"}},
         "y2": {"field": "b"},
         "fill": {"datum": "wc", "type": "nominal", "scale": {"domain": ["wc"], "range": ["#cccccc"]},
           "legend": {"orient": "none", "legendX": 6, "legendY": 3, "title": null, "symbolType": "M-1,-0.6H1V0.6H-1Z", "symbolSize": 256, "symbolStrokeWidth": 0, "symbolOpacity": 1, "labelExpr": "''", "padding": 0}}
       }},
      {"data": {"values": [{"h": 0, "v": 1.0}, {"h": 24, "v": 1.027}]},
       "mark": {"type": "line", "color": "#e4e4e4", "strokeWidth": 1},
       "encoding": {"x": {"field": "h", "type": "quantitative", "title": "Hours"}, "y": {"field": "v", "type": "quantitative", "title": "pu"}}},
      {"data": {"name": "va"}, "transform": [{"fold": ["n1","n3","n5","n9","n11"], "as": ["node","v"]}, {"filter": "isValid(datum.v)"}],
       "mark": {"type": "line", "strokeWidth": 1.2},
       "encoding": {"x": {"field": "h", "type": "quantitative", "title": "Hours"}, "y": {"field": "v", "type": "quantitative", "title": "pu"},
         "color": {"field": "node", "type": "nominal",
           "scale": {"domain": ["wc","n1","n3","n5","n9","n11","n12","n14"], "range": ["#cccccc","#D95319","#EDB120","#7E2F8E","#77AC30","#4DBEEE","#A2142F","#0072BD"]},
           "legend": {"orient": "none", "legendX": 6, "legendY": 3, "direction": "horizontal", "columns": 6, "title": null, "symbolType": "stroke", "symbolSize": 256, "symbolStrokeWidth": 1.5, "columnPadding": 2, "rowPadding": 3, "labelOffset": 0, "padding": 0,
             "labelExpr": "datum.label == 'wc' ? 'without control' : 'node ' + slice(datum.label, 1)"}}}},
      {"data": {"name": "va"}, "transform": [{"filter": "isValid(datum.n12)"}],
       "mark": {"type": "line", "strokeWidth": 1.2},
       "encoding": {"x": {"field": "h", "type": "quantitative", "title": "Hours"}, "y": {"field": "n12", "type": "quantitative", "title": "pu"},
         "color": {"datum": "n12", "type": "nominal"}}},
      {"data": {"name": "va"}, "transform": [{"filter": "isValid(datum.n14)"}],
       "mark": {"type": "line", "strokeWidth": 1.2},
       "encoding": {"x": {"field": "h", "type": "quantitative", "title": "Hours"}, "y": {"field": "n14", "type": "quantitative", "title": "pu"},
         "color": {"datum": "n14", "type": "nominal"}}},
      {"data": {"values": [{}]},
       "mark": {"type": "rule", "color": "#ff0000", "strokeDash": [6, 4], "strokeWidth": 2},
       "encoding": {"y": {"datum": 1.04, "type": "quantitative", "title": "pu"}}}
    ]},
    {"data": {"values": [{"h": 0, "v": 1}]}, "mark": {"type": "point", "opacity": 0, "size": 0},
     "encoding": {"x": {"field": "h", "type": "quantitative", "axis": {"orient": "top", "labels": false, "title": null, "values": [2,4,6,8,10,12,14,16,18,20,22]}},
                  "y": {"field": "v", "type": "quantitative", "axis": {"orient": "right", "labels": false, "title": null, "values": [1, 1.02, 1.04, 1.06], "tickCount": 4}}}}
  ],
  "resolve": {"axis": {"x": "independent", "y": "independent"}}
}]},
{"spacing": 0, "resolve": {"scale": {"color": "independent", "fill": "independent"}, "legend": {"color": "independent", "fill": "independent"}},
 "hconcat": [
 {"width": 1, "height": 1, "view": {"stroke": null}, "data": {"values": [{}]}, "mark": {"type": "point", "opacity": 0, "size": 0}},
 {
  "width": 604, "height": 121,
  "title": {"text": ["(b) PV plant at node B11: curtailed generation (line plot) and MPP (shaded", "grey)."], "anchor": "start", "frame": "group", "dx": -54, "orient": "bottom"},
  "layer": [
    {"layer": [
      {"data": {"name": "bm"}, "mark": {"type": "area", "opacity": 1},
       "encoding": {
         "x": {"field": "h", "type": "quantitative", "title": "Hours", "scale": {"domain": [0, 24], "nice": false, "zero": false}, "axis": {"values": [2,4,6,8,10,12,14,16,18,20,22]}},
         "y": {"field": "v", "type": "quantitative", "title": "kW", "scale": {"domain": [0, 10.7], "nice": false, "zero": false}, "axis": {"values": [0, 5, 10], "tickCount": 4}},
         "fill": {"datum": "MPP", "type": "nominal", "scale": {"domain": ["MPP"], "range": ["#cccccc"]},
           "legend": {"orient": "none", "legendX": 519, "legendY": 6, "title": null, "symbolType": "M-1,-0.6H1V0.6H-1Z", "symbolSize": 289, "symbolStrokeWidth": 0, "symbolOpacity": 1, "labelExpr": "''", "padding": 0}}
       }},
      {"data": {"name": "bc"}, "mark": {"type": "line", "strokeWidth": 1.2},
       "encoding": {"x": {"field": "h", "type": "quantitative", "title": "Hours"}, "y": {"field": "v", "type": "quantitative", "title": "kW"},
         "color": {"datum": "Curtailed", "type": "nominal", "scale": {"domain": ["MPP", "Curtailed"], "range": ["#cccccc", "#ff0000"]},
           "legend": {"orient": "none", "legendX": 519, "legendY": 6, "direction": "vertical", "title": null, "symbolType": "stroke", "symbolSize": 289, "symbolStrokeWidth": 1.5, "rowPadding": 2, "labelOffset": 0, "padding": 0}}}}
    ]},
    {"data": {"values": [{"h": 0, "v": 0}]}, "mark": {"type": "point", "opacity": 0, "size": 0},
     "encoding": {"x": {"field": "h", "type": "quantitative", "axis": {"orient": "top", "labels": false, "title": null, "values": [2,4,6,8,10,12,14,16,18,20,22]}},
                  "y": {"field": "v", "type": "quantitative", "axis": {"orient": "right", "labels": false, "title": null, "values": [0, 5, 10], "tickCount": 4}}}}
  ],
  "resolve": {"axis": {"x": "independent", "y": "independent"}}
}]},
{"spacing": 0, "resolve": {"scale": {"color": "independent", "fill": "independent"}, "legend": {"color": "independent", "fill": "independent"}},
 "hconcat": [
 {"width": 1, "height": 1, "view": {"stroke": null}, "data": {"values": [{}]}, "mark": {"type": "point", "opacity": 0, "size": 0}},
 {
  "width": 611, "height": 122,
  "title": {"text": ["(c) PV plant at node B09: curtailed generation (line plot) and MPP (shaded", "grey)."], "anchor": "start", "frame": "group", "dx": -45, "orient": "bottom"},
  "layer": [
    {"layer": [
      {"data": {"name": "cm"}, "mark": {"type": "area", "opacity": 1},
       "encoding": {
         "x": {"field": "h", "type": "quantitative", "title": "Hours", "scale": {"domain": [0, 24], "nice": false, "zero": false}, "axis": {"values": [2,4,6,8,10,12,14,16,18,20,22]}},
         "y": {"field": "v", "type": "quantitative", "title": "kW", "scale": {"domain": [-0.25, 7.6], "nice": false, "zero": false}, "axis": {"values": [0, 2, 4, 6], "tickCount": 5}},
         "fill": {"datum": "MPP", "type": "nominal", "scale": {"domain": ["MPP"], "range": ["#cccccc"]},
           "legend": {"orient": "none", "legendX": 528, "legendY": 6, "title": null, "symbolType": "M-1,-0.6H1V0.6H-1Z", "symbolSize": 289, "symbolStrokeWidth": 0, "symbolOpacity": 1, "labelExpr": "''", "padding": 0}}
       }},
      {"data": {"name": "cc"}, "mark": {"type": "line", "strokeWidth": 1.2},
       "encoding": {"x": {"field": "h", "type": "quantitative", "title": "Hours"}, "y": {"field": "v", "type": "quantitative", "title": "kW"},
         "color": {"datum": "Curtailed", "type": "nominal", "scale": {"domain": ["MPP", "Curtailed"], "range": ["#cccccc", "#ff0000"]},
           "legend": {"orient": "none", "legendX": 528, "legendY": 6, "direction": "vertical", "title": null, "symbolType": "stroke", "symbolSize": 289, "symbolStrokeWidth": 1.5, "rowPadding": 2, "labelOffset": 0, "padding": 0}}}}
    ]},
    {"data": {"values": [{"h": 0, "v": 0}]}, "mark": {"type": "point", "opacity": 0, "size": 0},
     "encoding": {"x": {"field": "h", "type": "quantitative", "axis": {"orient": "top", "labels": false, "title": null, "values": [2,4,6,8,10,12,14,16,18,20,22]}},
                  "y": {"field": "v", "type": "quantitative", "axis": {"orient": "right", "labels": false, "title": null, "values": [0, 2, 4, 6], "tickCount": 5}}}}
  ],
  "resolve": {"axis": {"x": "independent", "y": "independent"}}
}]},
{"spacing": 0, "resolve": {"scale": {"color": "independent"}, "legend": {"color": "independent"}},
 "hconcat": [
 {"width": 8, "height": 1, "view": {"stroke": null}, "data": {"values": [{}]}, "mark": {"type": "point", "opacity": 0, "size": 0}},
 {
  "width": 619, "height": 124,
  "title": {"text": "(d) Uncontrollable active power injections.", "anchor": "middle", "frame": "group", "dx": -17, "orient": "bottom", "offset": 6},
  "layer": [
    {"data": {"name": "d"}, "mark": {"type": "line", "strokeWidth": 1.2, "interpolate": "step-after", "clip": true},
     "encoding": {
       "x": {"field": "h", "type": "quantitative", "title": "Hours", "scale": {"domain": [0, 24], "nice": false, "zero": false}, "axis": {"values": [2,4,6,8,10,12,14,16,18,20,22]}},
       "y": {"field": "v", "type": "quantitative", "title": "kW", "scale": {"domain": [-15.75, 15.25], "nice": false, "zero": false}, "axis": {"values": [-10, 0, 10], "tickCount": 4, "titlePadding": 3}},
       "color": {"field": "s", "type": "nominal", "scale": {"domain": ["node 3", "node 12", "node 5", "node 14"], "range": ["#0072BD", "#EDB120", "#D95319", "#7E2F8E"]},
         "legend": {"orient": "none", "legendX": 474, "legendY": 7, "direction": "horizontal", "columns": 2, "title": null, "symbolType": "stroke", "symbolSize": 256, "symbolStrokeWidth": 1.5, "columnPadding": 1, "rowPadding": 3, "labelOffset": 0, "padding": 0}}
     }},
    {"data": {"values": [{"h": 0, "v": 0}]}, "mark": {"type": "point", "opacity": 0, "size": 0},
     "encoding": {"x": {"field": "h", "type": "quantitative", "axis": {"orient": "top", "labels": false, "title": null, "values": [2,4,6,8,10,12,14,16,18,20,22]}},
                  "y": {"field": "v", "type": "quantitative", "axis": {"orient": "right", "labels": false, "title": null, "values": [-10, 0, 10], "tickCount": 4}}}}
  ],
  "resolve": {"axis": {"x": "independent", "y": "independent"}}
}]},
{"spacing": 0, "resolve": {"scale": {"color": "independent"}, "legend": {"color": "independent"}},
 "hconcat": [
 {"width": 10, "height": 1, "view": {"stroke": null}, "data": {"values": [{}]}, "mark": {"type": "point", "opacity": 0, "size": 0}},
 {
  "width": 617, "height": 122,
  "title": {"text": "(e) Uncontrollable reactive power injections.", "anchor": "middle", "frame": "group", "dx": -18, "orient": "bottom", "offset": 8},
  "layer": [
    {"data": {"name": "e"}, "mark": {"type": "line", "strokeWidth": 1.2, "interpolate": "step-after", "clip": true},
     "encoding": {
       "x": {"field": "h", "type": "quantitative", "title": "Hours", "scale": {"domain": [0, 24], "nice": false, "zero": false}, "axis": {"values": [2,4,6,8,10,12,14,16,18,20,22]}},
       "y": {"field": "v", "type": "quantitative", "title": "kVar", "scale": {"domain": [-11.7, 9.6], "nice": false, "zero": false}, "axis": {"values": [-10, -5, 0, 5], "tickCount": 5, "titlePadding": 5}},
       "color": {"field": "s", "type": "nominal", "scale": {"domain": ["node 3", "node 12", "node 5", "node 14"], "range": ["#0072BD", "#EDB120", "#D95319", "#7E2F8E"]},
         "legend": {"orient": "none", "legendX": 472, "legendY": 7, "direction": "horizontal", "columns": 2, "title": null, "symbolType": "stroke", "symbolSize": 256, "symbolStrokeWidth": 1.5, "columnPadding": 1, "rowPadding": 3, "labelOffset": 0, "padding": 0}}
     }},
    {"data": {"values": [{"h": 0, "v": 0}]}, "mark": {"type": "point", "opacity": 0, "size": 0},
     "encoding": {"x": {"field": "h", "type": "quantitative", "axis": {"orient": "top", "labels": false, "title": null, "values": [2,4,6,8,10,12,14,16,18,20,22]}},
                  "y": {"field": "v", "type": "quantitative", "axis": {"orient": "right", "labels": false, "title": null, "values": [-10, -5, 0, 5], "tickCount": 5}}}}
  ],
  "resolve": {"axis": {"x": "independent", "y": "independent"}}
}]}
]
}
